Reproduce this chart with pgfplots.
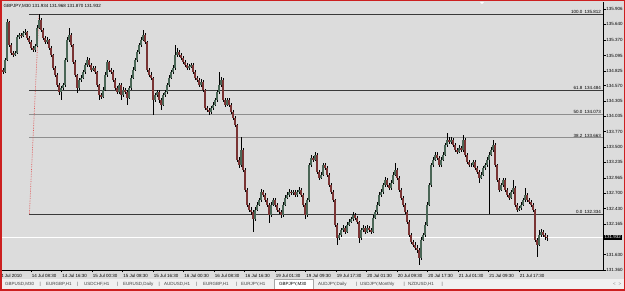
\documentclass[border=0pt]{standalone}
\usepackage{pgfplots}
\usepackage{pgfplotstable}
\pgfplotsset{compat=1.18}
\usepackage{fontspec}
\setmainfont{Liberation Sans}
\definecolor{chartbg}{HTML}{DCDCDC}
\definecolor{winred}{HTML}{CC2020}
\definecolor{bull}{HTML}{4A6656}
\definecolor{bear}{HTML}{7A3434}
\definecolor{fibdark}{HTML}{3A3A3A}
\definecolor{fiblight}{HTML}{8E8E8E}
\definecolor{tabbg}{HTML}{F0F0F0}
\definecolor{trend}{HTML}{E05A5A}
\newcommand{\mt}{\fontsize{4.5}{5}\selectfont}
\pgfplotstableread{
k o h l c
0 134.80 134.89 134.77 134.85
1 134.85 134.88 134.78 134.81
2 134.81 135.05 134.79 135.02
3 135.02 135.73 135.00 135.68
4 135.68 135.70 135.24 135.28
5 135.28 135.31 135.10 135.14
6 135.14 135.17 135.07 135.11
7 135.11 135.18 135.08 135.14
8 135.14 135.45 135.12 135.42
9 135.42 135.49 135.39 135.45
10 135.45 135.48 135.40 135.44
11 135.44 135.52 135.41 135.49
12 135.49 135.55 135.46 135.51
13 135.51 135.53 135.37 135.40
14 135.40 135.43 135.30 135.33
15 135.33 135.36 135.20 135.23
16 135.23 135.26 135.15 135.19
17 135.19 135.29 135.16 135.26
18 135.26 135.62 135.24 135.58
19 135.58 135.812 135.55 135.72
20 135.72 135.75 135.50 135.54
21 135.54 135.57 135.36 135.40
22 135.40 135.43 135.29 135.33
23 135.33 135.41 135.30 135.37
24 135.37 135.39 135.20 135.23
25 135.23 135.26 135.07 135.11
26 135.11 135.13 134.84 134.88
27 134.88 134.91 134.72 134.76
28 134.76 134.79 134.54 134.58
29 134.58 134.61 134.41 134.46
30 134.46 134.57 134.32 134.53
31 134.53 134.62 134.49 134.58
32 134.58 135.06 134.55 135.02
33 135.02 135.41 134.99 135.37
34 135.37 135.58 135.33 135.45
35 135.45 135.48 135.24 135.28
36 135.28 135.30 134.94 134.98
37 134.98 135.01 134.72 134.76
38 134.76 134.78 134.44 134.53
39 134.53 134.71 134.50 134.67
40 134.67 134.75 134.63 134.71
41 134.71 134.85 134.68 134.81
42 134.81 134.97 134.78 134.93
43 134.93 135.07 134.90 135.02
44 135.02 135.05 134.89 134.93
45 134.93 134.96 134.81 134.85
46 134.85 134.92 134.82 134.88
47 134.88 134.91 134.77 134.81
48 134.81 134.83 134.54 134.58
49 134.58 134.60 134.32 134.41
50 134.41 134.45 134.34 134.38
51 134.38 134.54 134.35 134.50
52 134.50 134.80 134.47 134.76
53 134.76 135.02 134.73 134.98
54 134.98 135.00 134.81 134.85
55 134.85 134.88 134.77 134.81
56 134.81 134.84 134.63 134.67
57 134.67 134.70 134.49 134.53
58 134.53 134.56 134.42 134.46
59 134.46 134.62 134.43 134.58
60 134.58 134.61 134.32 134.41
61 134.41 134.54 134.37 134.50
62 134.50 134.53 134.42 134.46
63 134.46 134.49 134.24 134.36
64 134.36 134.57 134.33 134.53
65 134.53 134.75 134.50 134.71
66 134.71 134.89 134.68 134.85
67 134.85 135.06 134.82 135.02
68 135.02 135.20 134.99 135.16
69 135.16 135.32 135.13 135.28
70 135.28 135.41 135.25 135.37
71 135.37 135.54 135.34 135.45
72 135.45 135.48 135.29 135.33
73 135.33 135.35 134.81 134.85
74 134.85 134.88 134.72 134.76
75 134.76 134.80 134.67 134.71
76 134.71 134.73 134.06 134.32
77 134.32 134.45 134.28 134.41
78 134.41 134.50 134.37 134.46
79 134.46 134.49 134.27 134.32
80 134.32 134.35 134.15 134.24
81 134.24 134.45 134.21 134.41
82 134.41 134.50 134.38 134.46
83 134.46 134.62 134.43 134.58
84 134.58 134.75 134.55 134.71
85 134.71 134.85 134.68 134.81
86 134.81 134.93 134.78 134.88
87 134.88 135.28 134.85 135.11
88 135.11 135.22 135.07 135.16
89 135.16 135.19 135.07 135.11
90 135.11 135.14 135.01 135.05
91 135.05 135.08 134.94 134.98
92 134.98 135.01 134.89 134.93
93 134.93 134.96 134.84 134.88
94 134.88 134.95 134.85 134.91
95 134.91 134.97 134.88 134.93
96 134.93 134.96 134.77 134.81
97 134.81 134.84 134.67 134.71
98 134.71 134.74 134.63 134.67
99 134.67 134.70 134.54 134.58
100 134.58 134.68 134.55 134.64
101 134.64 134.67 134.46 134.50
102 134.50 134.52 134.14 134.18
103 134.18 134.22 134.11 134.15
104 134.15 134.18 134.06 134.11
105 134.11 134.22 134.08 134.18
106 134.18 134.28 134.15 134.24
107 134.24 134.36 134.21 134.32
108 134.32 134.50 134.29 134.46
109 134.46 134.81 134.43 134.58
110 134.58 134.72 134.55 134.67
111 134.67 134.70 134.28 134.32
112 134.32 134.35 134.20 134.24
113 134.24 134.36 134.21 134.32
114 134.32 134.35 134.20 134.24
115 134.24 134.27 134.07 134.11
116 134.11 134.14 133.97 134.01
117 134.01 134.04 133.85 133.89
118 133.89 133.91 133.24 133.28
119 133.28 133.32 133.14 133.19
120 133.19 133.68 133.16 133.45
121 133.45 133.48 133.07 133.11
122 133.11 133.13 132.72 132.76
123 132.76 132.79 132.46 132.50
124 132.50 132.53 132.37 132.41
125 132.41 132.45 132.32 132.37
126 132.37 132.40 132.03 132.24
127 132.24 132.45 132.21 132.41
128 132.41 132.54 132.38 132.50
129 132.50 132.62 132.47 132.58
130 132.58 132.77 132.55 132.72
131 132.72 132.76 132.63 132.67
132 132.67 132.70 132.54 132.58
133 132.58 132.61 132.46 132.50
134 132.50 132.53 132.18 132.32
135 132.32 132.54 132.29 132.50
136 132.50 132.62 132.47 132.58
137 132.58 132.61 132.46 132.50
138 132.50 132.53 132.37 132.41
139 132.41 132.44 132.33 132.37
140 132.37 132.40 132.27 132.32
141 132.32 132.54 132.29 132.50
142 132.50 132.66 132.47 132.62
143 132.62 132.71 132.59 132.67
144 132.67 132.77 132.64 132.72
145 132.72 132.76 132.67 132.71
146 132.71 132.76 132.67 132.72
147 132.72 132.75 132.63 132.67
148 132.67 132.75 132.64 132.71
149 132.71 132.81 132.68 132.76
150 132.76 132.79 132.63 132.67
151 132.67 132.70 132.46 132.50
152 132.50 132.53 132.24 132.32
153 132.32 132.62 132.29 132.58
154 132.58 133.23 132.55 133.19
155 133.19 133.36 133.15 133.31
156 133.31 133.35 133.24 133.28
157 133.28 133.42 133.25 133.37
158 133.37 133.40 133.03 133.07
159 133.07 133.10 132.93 132.97
160 132.97 133.06 132.94 133.02
161 133.02 133.23 132.99 133.19
162 133.19 133.22 133.10 133.14
163 133.14 133.17 132.98 133.02
164 133.02 133.05 132.80 132.84
165 132.84 132.87 132.68 132.72
166 132.72 132.75 132.54 132.58
167 132.58 132.60 132.11 132.15
168 132.15 132.17 131.80 131.92
169 131.92 132.01 131.88 131.97
170 131.97 132.10 131.94 132.06
171 132.06 132.14 132.03 132.10
172 132.10 132.13 131.99 132.03
173 132.03 132.19 132.00 132.15
174 132.15 132.25 132.12 132.20
175 132.20 132.29 132.17 132.24
176 132.24 132.37 132.21 132.32
177 132.32 132.36 132.23 132.27
178 132.27 132.30 132.16 132.20
179 132.20 132.22 131.83 131.92
180 131.92 132.10 131.89 132.06
181 132.06 132.14 132.03 132.10
182 132.10 132.13 131.99 132.03
183 132.03 132.14 132.00 132.10
184 132.10 132.13 132.02 132.06
185 132.06 132.09 131.99 132.03
186 132.03 132.31 132.00 132.27
187 132.27 132.41 132.24 132.37
188 132.37 132.54 132.34 132.50
189 132.50 132.71 132.47 132.67
190 132.67 132.77 132.64 132.72
191 132.72 132.88 132.69 132.84
192 132.84 132.98 132.81 132.93
193 132.93 132.96 132.80 132.84
194 132.84 132.87 132.75 132.79
195 132.79 132.92 132.76 132.88
196 132.88 133.06 132.85 133.02
197 133.02 133.23 132.99 133.11
198 133.11 133.14 132.93 132.97
199 132.97 133.00 132.72 132.76
200 132.76 132.79 132.58 132.62
201 132.62 132.65 132.46 132.50
202 132.50 132.53 132.33 132.37
203 132.37 132.40 132.16 132.20
204 132.20 132.23 131.93 131.97
205 131.97 132.00 131.81 131.85
206 131.85 131.88 131.76 131.80
207 131.80 131.84 131.71 131.75
208 131.75 131.79 131.66 131.71
209 131.71 131.74 131.45 131.57
210 131.57 131.93 131.54 131.89
211 131.89 132.01 131.86 131.97
212 131.97 132.19 131.94 132.15
213 132.15 132.54 132.12 132.50
214 132.50 132.88 132.47 132.84
215 132.84 133.23 132.81 133.19
216 133.19 133.33 133.15 133.28
217 133.28 133.42 133.25 133.37
218 133.37 133.41 133.27 133.31
219 133.31 133.34 133.15 133.19
220 133.19 133.32 133.16 133.28
221 133.28 133.41 133.25 133.37
222 133.37 133.58 133.34 133.54
223 133.54 133.75 133.51 133.63
224 133.63 133.67 133.55 133.59
225 133.59 133.67 133.56 133.63
226 133.63 133.66 133.50 133.54
227 133.54 133.57 133.41 133.45
228 133.45 133.48 133.38 133.42
229 133.42 133.53 133.39 133.49
230 133.49 133.52 133.41 133.45
231 133.45 133.71 133.42 133.63
232 133.63 133.66 133.33 133.37
233 133.37 133.40 133.20 133.24
234 133.24 133.27 133.15 133.19
235 133.19 133.23 133.15 133.19
236 133.19 133.28 133.16 133.24
237 133.24 133.27 133.10 133.14
238 133.14 133.17 133.03 133.07
239 133.07 133.10 132.88 132.97
240 132.97 133.06 132.94 133.02
241 133.02 133.18 132.99 133.14
242 133.14 133.23 133.11 133.19
243 133.19 133.32 133.16 133.28
244 133.28 133.42 132.34 133.37
245 133.37 133.50 133.34 133.45
246 133.45 133.63 133.42 133.54
247 133.54 133.57 133.15 133.19
248 133.19 133.21 132.89 132.93
249 132.93 132.96 132.72 132.76
250 132.76 132.88 132.73 132.84
251 132.84 132.97 132.81 132.93
252 132.93 132.96 132.72 132.76
253 132.76 132.79 132.63 132.67
254 132.67 132.70 132.58 132.62
255 132.62 132.76 132.59 132.72
256 132.72 132.93 132.69 132.79
257 132.79 132.82 132.46 132.50
258 132.50 132.53 132.37 132.41
259 132.41 132.48 132.38 132.44
260 132.44 132.54 132.41 132.50
261 132.50 132.62 132.47 132.58
262 132.58 132.79 132.55 132.67
263 132.67 132.70 132.54 132.58
264 132.58 132.61 132.51 132.55
265 132.55 132.58 132.46 132.50
266 132.50 132.53 132.37 132.41
267 132.41 132.43 131.85 131.89
268 131.89 131.92 131.59 131.80
269 131.80 132.05 131.77 131.97
270 131.97 132.08 131.94 132.03
271 132.03 132.06 131.93 131.97
272 131.97 132.01 131.89 131.934
273 131.934 131.968 131.870 131.932
}\candles
\begin{document}
\begin{tikzpicture}[x=1pt,y=1pt]
\fill[chartbg] (0,0) rectangle (625,291);
\fill[tabbg] (0,0) rectangle (625,12);
\filldraw[fill=white, draw=gray!70, line width=0.4pt] (274,1.5) rectangle (313,11.8);
\begin{axis}[
  at={(2pt,21pt)}, anchor=south west,
  scale only axis, width=601pt, height=268pt,
  xmin=0.5, xmax=301, ymin=131.360, ymax=136.028,
  axis x line*=bottom, axis y line*=right,
  axis line style={black, line width=0.5pt},
  clip mode=individual,
  tick align=outside, major tick length=2.5pt,
  tick style={black, line width=0.4pt},
  xtick={15,30.25,45.5,60.75,76,91.25,106.5,121.75,137,152.25,167.5,182.75,198,213.25,228.5,243.75,259},
  xticklabels={14 Jul 08:30,14 Jul 16:30,15 Jul 00:30,15 Jul 08:30,15 Jul 16:30,16 Jul 00:30,16 Jul 08:30,16 Jul 16:30,19 Jul 01:30,19 Jul 09:30,19 Jul 17:30,20 Jul 01:30,20 Jul 09:30,20 Jul 17:30,21 Jul 01:30,21 Jul 09:30,21 Jul 17:30},
  xticklabel style={font=\mt, anchor=north west, inner xsep=0.6pt, inner ysep=0.5pt, yshift=-0.8pt},
  ytick={135.906,135.640,135.370,135.095,134.825,134.570,134.305,134.035,133.770,133.500,133.235,132.965,132.700,132.430,132.165,131.630,131.360},
  yticklabels={135.906,135.640,135.370,135.095,134.825,134.570,134.305,134.035,133.770,133.500,133.235,132.965,132.700,132.430,132.165,131.630,131.360},
  yticklabel style={font=\mt, anchor=west, inner xsep=0.6pt},
]
% fibonacci levels
\addplot[fibdark, line width=0.6pt] coordinates {(14.2,135.812) (301,135.812)};
\addplot[fibdark, line width=0.6pt] coordinates {(14.2,134.484) (301,134.484)};
\addplot[fiblight, line width=0.9pt] coordinates {(14.2,134.073) (301,134.073)};
\addplot[fiblight, line width=0.9pt] coordinates {(14.2,133.663) (301,133.663)};
\addplot[fibdark, line width=0.6pt] coordinates {(14.2,132.334) (301,132.334)};
% bid line
\addplot[white, line width=0.6pt] coordinates {(0.5,131.932) (301,131.932)};
% trend line of the retracement
\addplot[trend, densely dotted, line width=0.7pt] coordinates {(14.2,132.334) (19,135.812)};
% wicks
\addplot[draw=none, mark=none, error bars/.cd, y dir=both, y explicit, error mark=none,
  error bar style={draw=black, line width=0.5pt}]
  table[x=k, y=c, y error plus expr=\thisrow{h}-\thisrow{c}, y error minus expr=\thisrow{c}-\thisrow{l}] {\candles};
% bull bodies
\addplot[draw=none, mark=none, restrict expr to domain={\thisrow{c}-\thisrow{o}}{0:10},
  error bars/.cd, y dir=both, y explicit, error mark=none,
  error bar style={draw=bull, line width=1.1pt}]
  table[x=k, y expr=0.5*(\thisrow{o}+\thisrow{c}), y error expr=0.5*abs(\thisrow{c}-\thisrow{o})] {\candles};
% bear bodies
\addplot[draw=none, mark=none, restrict expr to domain={\thisrow{o}-\thisrow{c}}{0.0001:10},
  error bars/.cd, y dir=both, y explicit, error mark=none,
  error bar style={draw=bear, line width=1.1pt}]
  table[x=k, y expr=0.5*(\thisrow{o}+\thisrow{c}), y error expr=0.5*abs(\thisrow{c}-\thisrow{o})] {\candles};
% level labels
\node[font=\mt, anchor=south east, inner sep=0.4pt, xshift=-1.5pt] at (axis cs:301,135.812) {100.0\enspace 135.812};
\node[font=\mt, anchor=south east, inner sep=0.4pt, xshift=-1.5pt] at (axis cs:301,134.484) {61.8\enspace 134.484};
\node[font=\mt, anchor=south east, inner sep=0.4pt, xshift=-1.5pt] at (axis cs:301,134.073) {50.0\enspace 134.073};
\node[font=\mt, anchor=south east, inner sep=0.4pt, xshift=-1.5pt] at (axis cs:301,133.663) {38.2\enspace 133.663};
\node[font=\mt, anchor=south east, inner sep=0.4pt, xshift=-1.5pt] at (axis cs:301,132.334) {0.0\enspace 132.334};
% current price box
\node[font=\mt, anchor=west, fill=black, text=white, inner xsep=0.8pt, inner ysep=0.9pt, xshift=0.5pt] at (axis cs:301,131.932) {131.932};
% first, clipped time label
\node[font=\mt, anchor=north west, inner xsep=0.6pt, inner ysep=0.5pt, yshift=-3.3pt] at (axis cs:-1.6,131.36) {14 Jul 2010};
\end{axis}
% header
\node[font=\mt, anchor=west, inner sep=0pt] at (3.5,285) {GBPJPY,M30 131.934 131.968 131.870 131.932};
% shift marker
\fill[white] (480,289) -- (484,289) -- (482,286.8) -- cycle;
% tabs
\begin{scope}[every node/.style={font=\mt, anchor=west, inner sep=0pt, text=black!75}]
\node at (5,6.5) {GBPUSD,M30};
\node at (39.5,6.5) {|};
\node at (46,6.5) {EURGBP,H1};
\node at (77,6.5) {|};
\node at (84,6.5) {USDCHF,H1};
\node at (117,6.5) {|};
\node at (123,6.5) {EURUSD,Daily};
\node at (158.5,6.5) {|};
\node at (164,6.5) {AUDUSD,H1};
\node at (196,6.5) {|};
\node at (203,6.5) {EURGBP,H1};
\node at (236,6.5) {|};
\node at (241,6.5) {EURJPY,H1};
\node[text=black] at (279,6.5) {GBPJPY,M30};
\node at (318,6.5) {AUDJPY,Daily};
\node at (356,6.5) {|};
\node at (360,6.5) {USDJPY,Monthly};
\node at (403.5,6.5) {|};
\node at (408,6.5) {NZDUSD,H1};
\node at (441.5,6.5) {|};
\node[text=gray] at (613,6.5) {<};
\node[text=gray] at (618.5,6.5) {>};
\end{scope}
% window border
\draw[winred, line width=1.5pt] (0.75,0.75) rectangle (624.25,290.25);
\pgfresetboundingbox
\useasboundingbox (0,0) rectangle (625,291);
\end{tikzpicture}
\end{document}
